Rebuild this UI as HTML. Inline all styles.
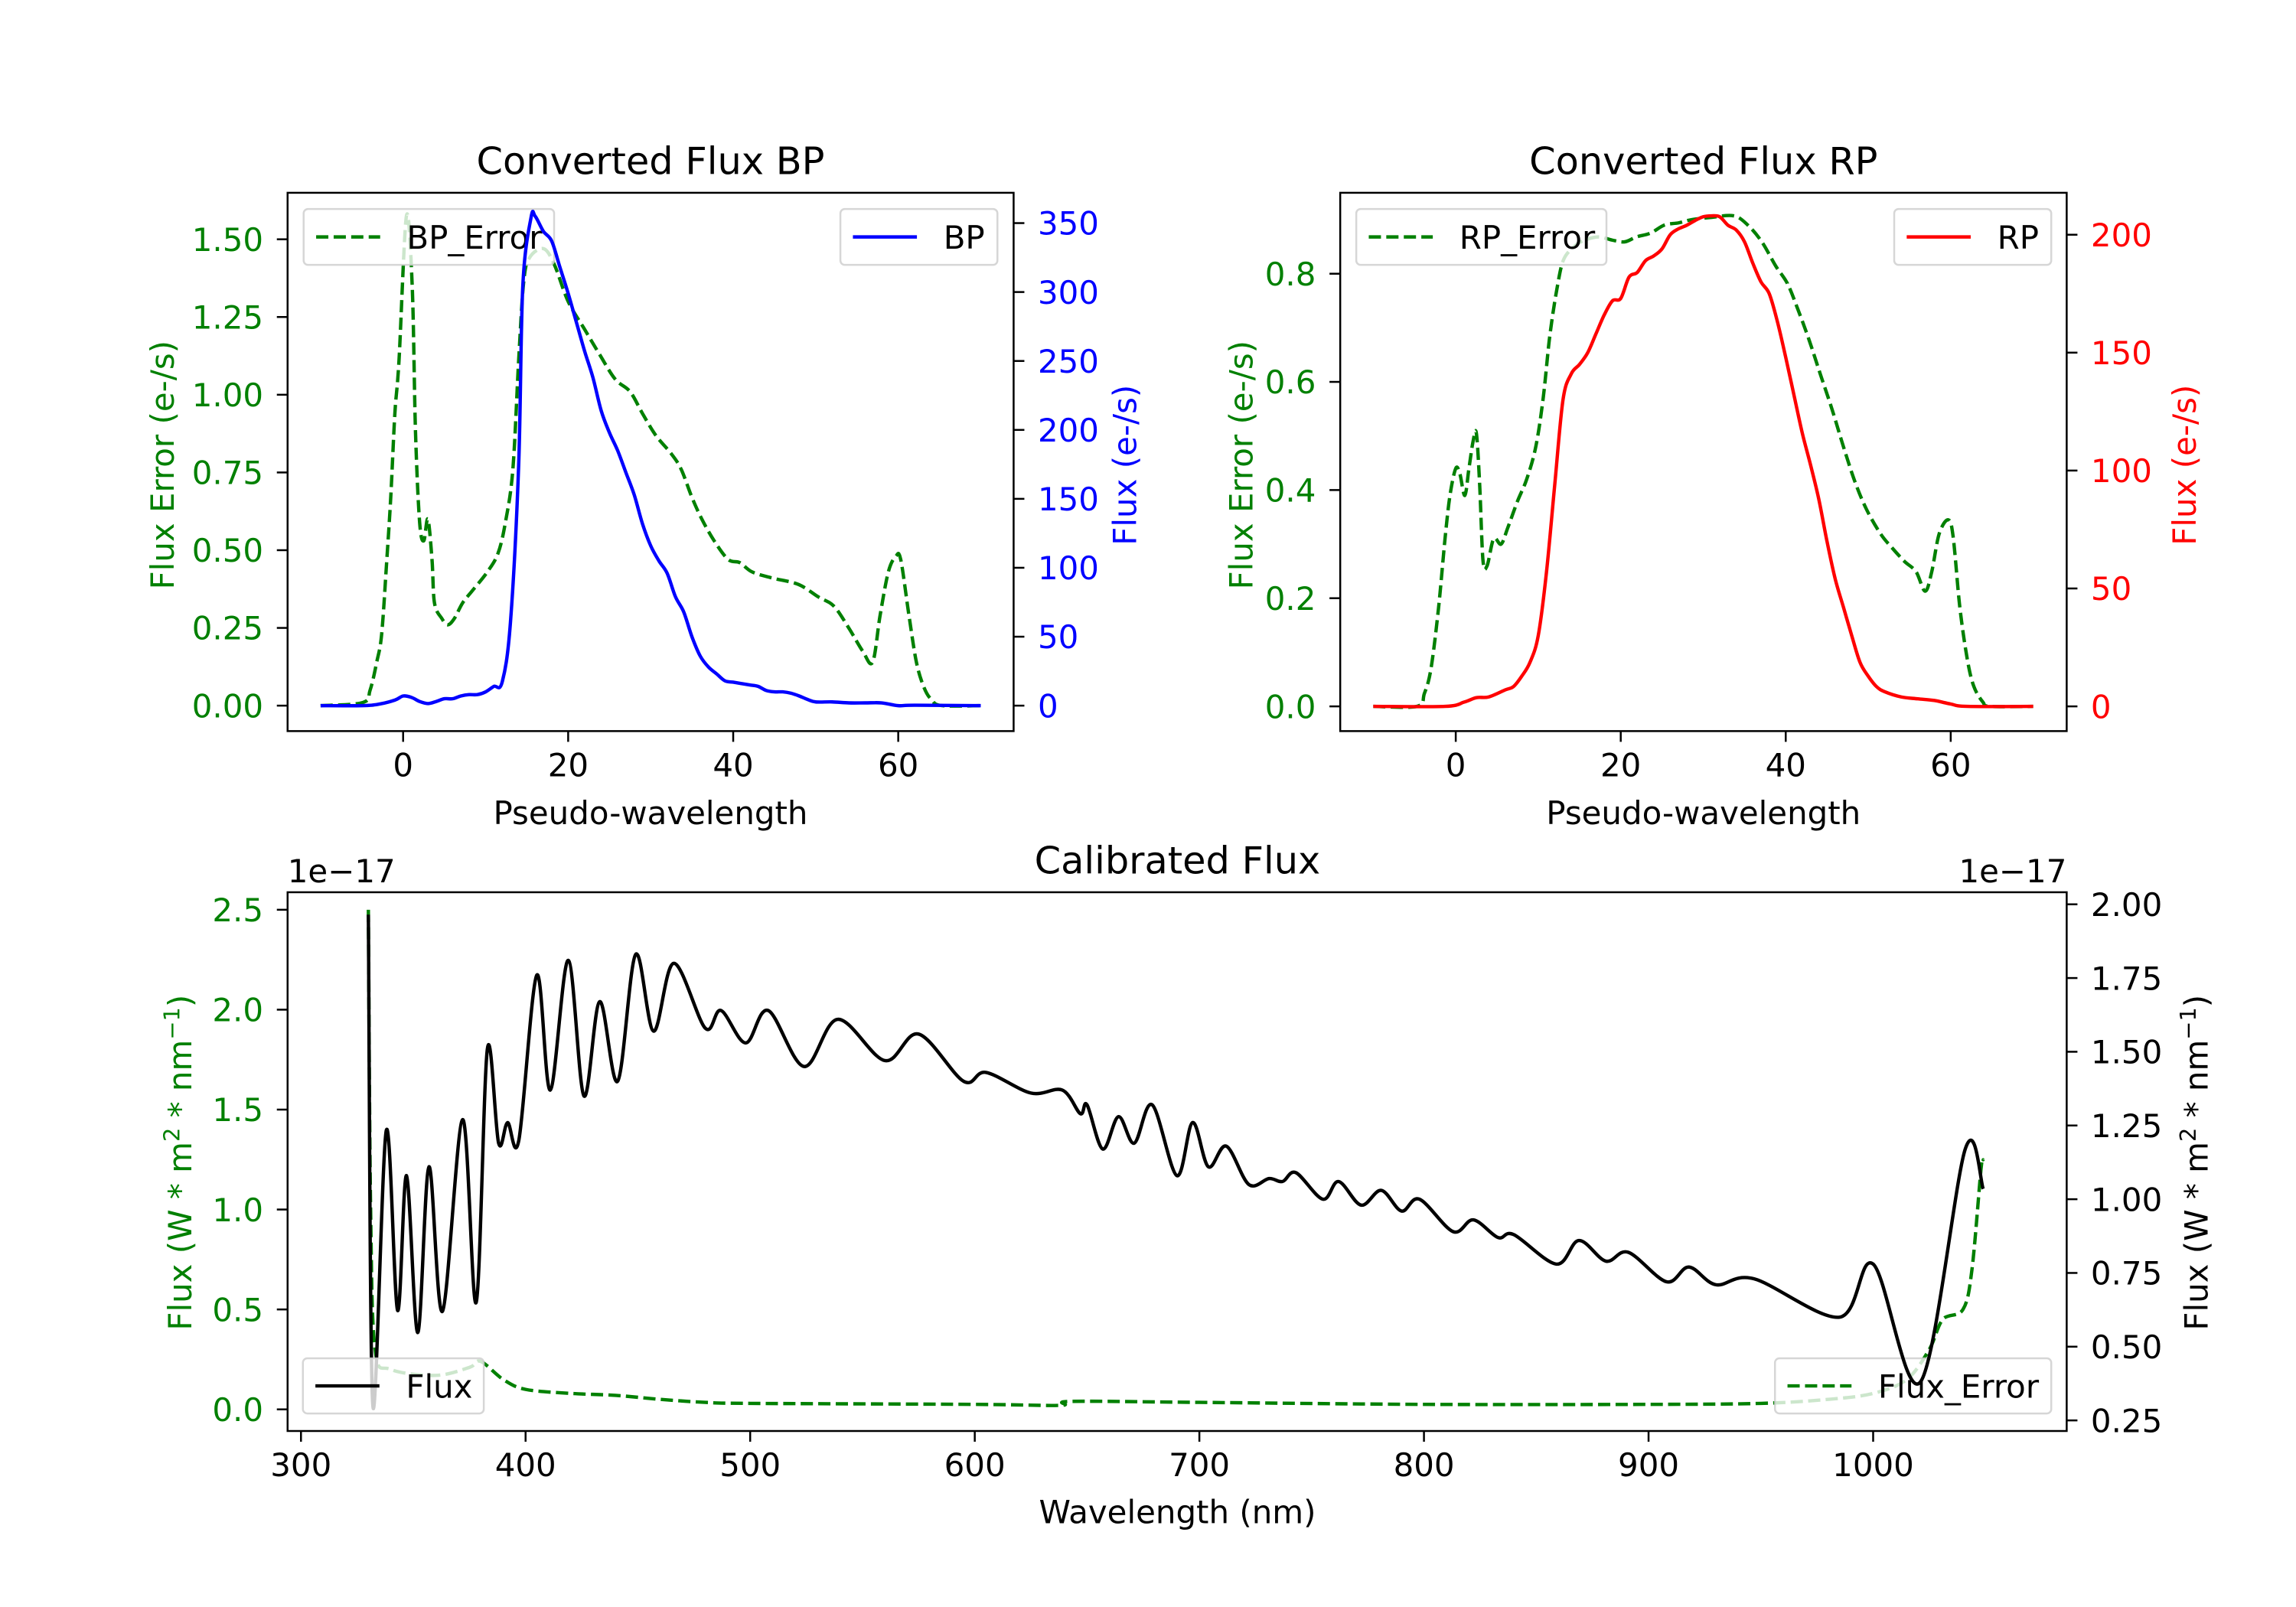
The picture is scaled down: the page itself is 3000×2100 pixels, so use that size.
<!DOCTYPE html>
<html><head><meta charset="utf-8">
<style>
html,body{margin:0;padding:0;background:#fff;}
svg{display:block;font-family:"DejaVu Sans","Liberation Sans",sans-serif;}
</style></head>
<body>
<svg id="fig" xmlns="http://www.w3.org/2000/svg" width="3000" height="2100" viewBox="0 0 1560 1092">
<rect x="0" y="0" width="1560" height="1092" fill="#fff"/>
</svg>
<script>
// ---- BP panel data ----
const bpX = [-10,-5,-3,-1,0,1,2,3,4,5,6,7,8,9,10,11,12,13,14,14.5,15.5,16,17,18,19,20,21,22,23,24,25,26,27,28,29,30,31,32,33,34,35,36,37,38,39,40,41,42,43,44,45,46,47,48,49,50,52,54,56,58,60,62,70];
const bpFlux = [0,0,1,4,7,6,3,1.5,3,5,5,7,8,8,10,14,17,60,174,304,354,355,344,337,318,299,278,257,238,214,198,185,169,153,132,116,105,96,79,68,50,36,28,23,18,17,16,15,14,11,10,10,9,7,4.5,2.7,2.7,2,2,2,0,0.3,0];
const bpErrX = [-10,-4.9,-4,-3.2,-2.6,-2,-1.5,-1,-0.5,0.4,1.1,1.5,2,2.5,3,3.5,3.8,4.7,5.4,6.2,7.2,8.4,10.2,11.5,12.4,13.3,14,14.6,15.3,17,18.3,20,22,23.8,25.7,27.5,29,30.6,32.5,33.7,35,36.2,37.7,39.4,40.8,42.3,44.8,47.9,50.3,52.2,54,55.7,56.9,57.8,58.8,59.7,60.3,61.3,62.2,63.1,64,65.3,70];
const bpErr = [0,0.01,0.05,0.14,0.23,0.46,0.67,0.94,1.11,1.575,1.35,0.88,0.59,0.53,0.6,0.47,0.33,0.28,0.26,0.28,0.33,0.37,0.43,0.49,0.59,0.76,1.11,1.36,1.44,1.47,1.42,1.30,1.21,1.13,1.05,1.01,0.94,0.87,0.81,0.76,0.67,0.60,0.53,0.47,0.46,0.43,0.41,0.39,0.35,0.32,0.25,0.175,0.14,0.29,0.43,0.48,0.47,0.29,0.14,0.06,0.02,0,0];
// ---- RP panel data ----
const rpX = [-10,-1.3,1,2.5,4,6,7,8,9,10,11,12,13,14,15,16,17,18,19,20,21,22,23,24,25,26,27,28,29,30,31,32,33,34,35,36,37,38,39,40,41,42,43,44,45,46,47,48,49,50,51,52,54,56,58,60,62,70];
const rpFlux = [0,0,1.8,3.7,4,7,8.4,12.8,18.7,30,57,94,130,141,145,150,158,166,172,173,182,184,189,191,194,200,202.5,204,206,207.6,208,207.6,204,202,197,188,180,175,163,148,132,116,102.5,88,70,54,42,30,18.7,12.8,8.4,6.2,4,3.2,2.5,1,0,0];
const rpErrX = [-10,-4.7,-3.8,-3,-2.1,-1.3,-0.7,0,0.5,1.1,1.6,2.1,2.5,2.9,3.3,3.8,4.6,5.5,6.3,7.5,8.6,9.7,10.6,11.4,12.3,13.1,14.5,15.6,17.3,19,20.5,21.9,23.6,25.3,27,28.6,30.9,33.7,35.4,37.1,38.8,40.2,41.4,42.8,44.2,45.6,47,48.4,49.8,51.5,52.9,54.4,55.8,56.9,57.7,58.6,59.7,60.3,61.1,62,62.8,63.9,64.8,70];
const rpErr = [0,0,0.024,0.07,0.18,0.31,0.39,0.44,0.43,0.39,0.44,0.49,0.505,0.41,0.27,0.26,0.31,0.30,0.33,0.38,0.42,0.48,0.57,0.685,0.775,0.827,0.852,0.862,0.868,0.862,0.859,0.868,0.875,0.89,0.894,0.9,0.904,0.907,0.89,0.859,0.814,0.782,0.737,0.679,0.614,0.55,0.48,0.415,0.364,0.319,0.293,0.268,0.249,0.213,0.249,0.319,0.345,0.313,0.184,0.088,0.037,0.008,0,0];
// ---- Calibrated flux data (units of 1e-17) ----
const calWl = [330,332,338,343,347,352,357,363,372,378,383,388,392,397,405,411,419,426,433,441,449,457,466,480,487,498,508,524,539,560,575,595,605,625,639,647,650,657,664,671,679,690,697,704,712,722,731,737,743,755,762,772,781,790,798,813,822,833,840,859,869,881,891,908,918,930,947,985,1000,1021,1041,1049];
const calFlux = [1.965,0.30,1.234,0.623,1.08,0.548,1.11,0.62,1.27,0.65,1.51,1.19,1.26,1.20,1.76,1.37,1.81,1.35,1.67,1.40,1.83,1.57,1.80,1.58,1.64,1.53,1.64,1.45,1.61,1.47,1.56,1.40,1.43,1.36,1.37,1.29,1.32,1.17,1.28,1.19,1.32,1.08,1.26,1.11,1.18,1.05,1.07,1.06,1.09,1.00,1.06,0.98,1.03,0.96,1.00,0.89,0.93,0.87,0.88,0.78,0.86,0.79,0.82,0.72,0.77,0.71,0.73,0.60,0.78,0.38,1.17,1.035];
const errWl = [330,331,333,340,360,375,380,390,400,420,440,460,480,500,600,638,643,700,800,900,950,980,1000,1015,1025,1031,1040,1044,1048,1049];
const calErr = [2.5,1.0,0.3,0.2,0.17,0.21,0.24,0.15,0.1,0.08,0.07,0.05,0.035,0.03,0.025,0.02,0.04,0.035,0.025,0.025,0.03,0.05,0.08,0.15,0.3,0.45,0.5,0.7,1.2,1.25];
// tick arrays
const bpXTicks = [0,20,40,60];
const bpLTicks = ["0.00","0.25","0.50","0.75","1.00","1.25","1.50"];
const bpRTicks = [0,50,100,150,200,250,300,350];
const rpLTicks = ["0.0","0.2","0.4","0.6","0.8"];
const rpRTicks = [0,50,100,150,200];
const calXTicks = [300,400,500,600,700,800,900,1000];
const calLTicks = ["0.0","0.5","1.0","1.5","2.0","2.5"];
const calRTicks = ["0.25","0.50","0.75","1.00","1.25","1.50","1.75","2.00"];

const FS = 21.8, TFS = 25.7;
const NS = "http://www.w3.org/2000/svg";
const svg = document.getElementById('fig');
function mk(tag, attrs, parent, text){
  const e = document.createElementNS(NS, tag);
  for (const k in attrs) e.setAttribute(k, attrs[k]);
  if (text !== undefined) e.textContent = text;
  (parent||svg).appendChild(e);
  return e;
}
function lin(d0,d1,p0,p1){ return v => p0 + (v-d0)*(p1-p0)/(d1-d0); }
function pathD(xs, ys, sx, sy){
  const P = xs.map((x,i)=>[sx(x), sy(ys[i])]);
  let d = "M"+P[0][0].toFixed(2)+","+P[0][1].toFixed(2);
  for (let i=0;i<P.length-1;i++){
    const p0 = P[Math.max(i-1,0)], p1=P[i], p2=P[i+1], p3=P[Math.min(i+2,P.length-1)];
    const t=1/6;
    const c1=[p1[0]+(p2[0]-p0[0])*t, p1[1]+(p2[1]-p0[1])*t];
    const c2=[p2[0]-(p3[0]-p1[0])*t, p2[1]-(p3[1]-p1[1])*t];
    d += "C"+c1[0].toFixed(2)+","+c1[1].toFixed(2)+" "+c2[0].toFixed(2)+","+c2[1].toFixed(2)+" "+p2[0].toFixed(2)+","+p2[1].toFixed(2);
  }
  return d;
}
let clipN = 0;
function clip(x0,y0,x1,y1){
  const id = "c"+(clipN++);
  const cp = mk('clipPath',{id:id});
  mk('rect',{x:x0,y:y0,width:x1-x0,height:y1-y0},cp);
  return "url(#"+id+")";
}
function legend(x0,y0,x1,y1,color,dashed,label,name){
  const g = mk('g',{});
  
  
  mk('rect',{x:x0,y:y0,width:x1-x0,height:y1-y0,rx:3,fill:'#fff','fill-opacity':0.8,stroke:'#cccccc','stroke-opacity':0.8,'stroke-width':1.3},g);
  const ym=(y0+y1)/2;
  const l = mk('line',{x1:x0+8.5,y1:ym,x2:x0+52,y2:ym,stroke:color,'stroke-width':2.3},g);
  if (dashed) l.setAttribute('stroke-dasharray','8.3,3.6');
  mk('text',{x:x0+70,y:ym+7.9,'font-size':FS,fill:'#000'},g,label);
}
function txt(x,y,s,opts,name){
  const a = Object.assign({x:x,y:y,'font-size':FS,fill:'#000'},opts||{});
  const t = mk('text',a,svg,s);
  
  
  return t;
}
function frame(x0,y0,x1,y1,name){
  const r = mk('rect',{x:x0,y:y0,width:x1-x0,height:y1-y0,fill:'none',stroke:'#000','stroke-width':1.3});
  
  
}
function xTicks(vals, sx, yb, name){
  vals.forEach(v=>{
    const x=sx(v);
    mk('line',{x1:x,y1:yb,x2:x,y2:yb+7.3,stroke:'#000','stroke-width':1.3});
    txt(x, yb+30.7, String(v), {'text-anchor':'middle'}, name);
  });
}
function yTicksL(labels, sy, xa, color, name){
  labels.forEach(l=>{
    const y=sy(parseFloat(l));
    mk('line',{x1:xa-7.3,y1:y,x2:xa,y2:y,stroke:'#000','stroke-width':1.3});
    txt(xa-16.5, y+7.9, String(l), {'text-anchor':'end',fill:color}, name);
  });
}
function yTicksR(labels, sy, xa, color, name){
  labels.forEach(l=>{
    const y=sy(parseFloat(l));
    mk('line',{x1:xa,y1:y,x2:xa+7.3,y2:y,stroke:'#000','stroke-width':1.3});
    txt(xa+16.4, y+7.9, String(l), {'text-anchor':'start',fill:color}, name);
  });
}
function series(xs, ys, sx, sy, color, dashed, cl, name){
  const p = mk('path',{d:pathD(xs,ys,sx,sy),fill:'none',stroke:color,'stroke-width':2.3,'stroke-linejoin':'round','clip-path':cl});
  if (dashed) p.setAttribute('stroke-dasharray','8.3,3.6');
  
  
}
function vlabel(x,y,s,color,name){
  return txt(x,y,s,{'text-anchor':'middle',fill:color,transform:'rotate(-90 '+x+' '+y+')'},name);
}
const SUPLBL = 'Flux (W * m<tspan font-size="15" dy="-8">2</tspan><tspan dy="8"> * nm</tspan><tspan font-size="15" dy="-8">\u22121</tspan><tspan dy="8">)</tspan>';

// ===== BP panel =====
{
  const L=195.4,R=688.7,T=131,B=496.8;
  const sx=lin(0,60,273.9,610.3), syL=lin(0,1.5,479.5,162.6), syR=lin(0,350,479.5,151.6);
  const cl=clip(L,T,R,B);
  series(bpErrX,bpErr,sx,syL,'#008000',true,cl,'bp-error-line');
  legend(206.3,142,376.5,180,'#008000',true,'BP_Error','bp-error-legend');
  series(bpX,bpFlux,sx,syR,'#0000ff',false,cl,'bp-flux-line');
  legend(571,142,677.7,180,'#0000ff',false,'BP','bp-legend');
  frame(L,T,R,B,'bp-axes-frame');
  xTicks(bpXTicks,sx,B,'bp-x-tick-label');
  yTicksL(bpLTicks,syL,L,'#008000','bp-left-tick-label');
  yTicksR(bpRTicks,syR,R,'#0000ff','bp-right-tick-label');
  txt(442,118.4,'Converted Flux BP',{'text-anchor':'middle','font-size':TFS},'bp-title');
  txt(442,560,'Pseudo-wavelength',{'text-anchor':'middle'},'bp-x-axis-title');
  vlabel(118,316,'Flux Error (e-/s)','#008000','bp-left-axis-title');
  vlabel(772,316,'Flux (e-/s)','#0000ff','bp-right-axis-title');
}
// ===== RP panel =====
{
  const L=910.6,R=1404.2,T=131,B=496.8;
  const sx=lin(0,60,989.1,1325.4), syL=lin(0,0.8,480,186), syR=lin(0,200,480,159.5);
  const cl=clip(L,T,R,B);
  series(rpErrX,rpErr,sx,syL,'#008000',true,cl,'rp-error-line');
  legend(921.5,142,1091.5,180,'#008000',true,'RP_Error','rp-error-legend');
  series(rpX,rpFlux,sx,syR,'#ff0000',false,cl,'rp-flux-line');
  legend(1287,142,1393.7,180,'#ff0000',false,'RP','rp-legend');
  frame(L,T,R,B,'rp-axes-frame');
  xTicks(bpXTicks,sx,B,'rp-x-tick-label');
  yTicksL(rpLTicks,syL,L,'#008000','rp-left-tick-label');
  yTicksR(rpRTicks,syR,R,'#ff0000','rp-right-tick-label');
  txt(1157.4,118.4,'Converted Flux RP',{'text-anchor':'middle','font-size':TFS},'rp-title');
  txt(1157.4,560,'Pseudo-wavelength',{'text-anchor':'middle'},'rp-x-axis-title');
  vlabel(851,316,'Flux Error (e-/s)','#008000','rp-left-axis-title');
  vlabel(1492,316,'Flux (e-/s)','#ff0000','rp-right-axis-title');
}
// ===== Calibrated panel =====
{
  const L=195.4,R=1404.2,T=606.3,B=972.4;
  const sx=lin(300,400,204.5,357.1), syL=lin(0,2.5,957.7,618.2), syR=lin(0.25,2.0,965.2,614.5);
  const cl=clip(L,T,R,B);
  series(errWl,calErr,sx,syL,'#008000',true,cl,'flux-error-line');
  legend(1206,923,1393.7,960.5,'#008000',true,'Flux_Error','flux-error-legend');
  series(calWl,calFlux,sx,syR,'#000000',false,cl,'flux-line');
  legend(205.8,923,328.7,960.5,'#000000',false,'Flux','flux-legend');
  frame(L,T,R,B,'cal-axes-frame');
  xTicks(calXTicks,sx,B,'cal-x-tick-label');
  yTicksL(calLTicks,syL,L,'#008000','cal-left-tick-label');
  yTicksR(calRTicks,syR,R,'#000000','cal-right-tick-label');
  txt(800,593.7,'Calibrated Flux',{'text-anchor':'middle','font-size':TFS},'cal-title');
  txt(800,1035,'Wavelength (nm)',{'text-anchor':'middle'},'cal-x-axis-title');
  txt(195.4,599.6,'1e\u221217',{'text-anchor':'start'},'left-offset-label');
  txt(1404.2,599.6,'1e\u221217',{'text-anchor':'end'},'right-offset-label');
  const lt = vlabel(130,790,'','#008000','cal-left-axis-title');
  lt.innerHTML = SUPLBL;
  const rt = vlabel(1500,790,'','#000000','cal-right-axis-title');
  rt.innerHTML = SUPLBL;
}
</script>
</body></html>
